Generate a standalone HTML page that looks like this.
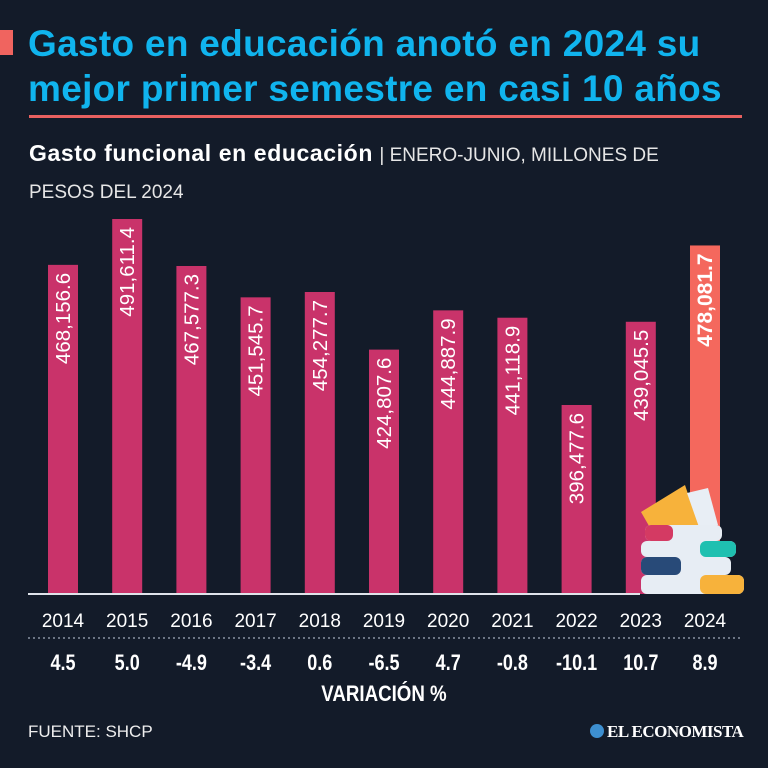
<!DOCTYPE html>
<html><head><meta charset="utf-8"><style>
body{margin:0;background:#131b29;}
#wrap{position:relative;width:768px;height:768px;background:#131b29;overflow:hidden;font-family:"Liberation Sans",sans-serif;color:#fff;}
.t{position:absolute;white-space:nowrap;}
</style></head><body>
<div id="wrap">
<div class="t" style="left:0;top:30px;width:13px;height:25px;background:#f0645f"></div>
<div class="t" style="left:28px;top:21px;font-size:37px;font-weight:bold;color:#10b4ee;line-height:45px;letter-spacing:0.3px">Gasto en educación anotó en 2024 su<br>mejor primer semestre en casi 10 años</div>
<div class="t" style="left:29px;top:115px;width:713px;height:3px;background:#e8605f"></div>
<div class="t" style="left:29px;top:136px;font-size:23px;line-height:34px"><b style="letter-spacing:0.6px">Gasto funcional en educación</b> <span style="font-size:19px;color:#e6e6e6">| ENERO-JUNIO, MILLONES DE<br>PESOS DEL 2024</span></div>
<svg id="chart" width="768" height="768" style="position:absolute;left:0;top:0"></svg>
<div class="t" style="left:0;width:768px;text-align:center;top:681px;font-size:22px;font-weight:bold;transform:scaleX(0.85)">VARIACIÓN %</div>
<div class="t" style="left:28px;top:722px;font-size:17px;color:#eee">FUENTE: SHCP</div>
<div class="t" style="left:590px;top:722px;font-size:17px;font-family:'Liberation Serif',serif;font-weight:bold;letter-spacing:-0.5px"><span style="display:inline-block;width:14px;height:14px;border-radius:50%;background:#3d8fd0;vertical-align:-1px;margin-right:3px"></span>EL ECONOMISTA</div>
</div>
<script>
const years=["2014","2015","2016","2017","2018","2019","2020","2021","2022","2023","2024"];
const values=[468156.6,491611.4,467577.3,451545.7,454277.7,424807.6,444887.9,441118.9,396477.6,439045.5,478081.7];
const labels=["468,156.6","491,611.4","467,577.3","451,545.7","454,277.7","424,807.6","444,887.9","441,118.9","396,477.6","439,045.5","478,081.7"];
const variation=["4.5","5.0","-4.9","-3.4","0.6","-6.5","4.7","-0.8","-10.1","10.7","8.9"];
const NS="http://www.w3.org/2000/svg";
const svg=document.getElementById('chart');
const x=i=>63+i*64.2;
const y=v=>594-(v-299800)*0.001955;
function mk(t,a){const e=document.createElementNS(NS,t);for(const k in a)e.setAttribute(k,a[k]);svg.appendChild(e);return e;}
years.forEach((yr,i)=>{
 const last=i===years.length-1;
 const r=mk('rect',{x:x(i)-15,y:y(values[i]),width:30,height:594-y(values[i]),fill:last?'#f4685d':'#c9336a'});
 
 
 const tx=x(i)+7,ty=y(values[i])+8;
 const t=mk('text',{x:tx,y:ty,transform:`rotate(-90 ${tx} ${ty})`,'text-anchor':'end','font-size':last?21:20.5,'font-weight':last?'bold':'normal',fill:'#fff','font-family':'Liberation Sans, sans-serif'});
 t.textContent=labels[i];
 
 
 const yl=mk('text',{x:x(i),y:627,'text-anchor':'middle','font-size':19,fill:'#fff','font-family':'Liberation Sans, sans-serif'});
 yl.textContent=yr;
 
 
 const vl=mk('text',{x:0,y:0,'text-anchor':'middle','font-size':22,'font-weight':'bold',fill:'#fff','font-family':'Liberation Sans, sans-serif',transform:`translate(${x(i)},670) scale(0.82,1)`});
 vl.textContent=variation[i];
 
 
});
const base=mk('line',{x1:28,x2:640,y1:594,y2:594,stroke:'#dfe3ea','stroke-width':2});


const dot=mk('line',{x1:28,x2:740,y1:638,y2:638,stroke:'#8a93a3','stroke-width':1.5,'stroke-dasharray':'2 3'});


const g=document.createElementNS(NS,'g');svg.appendChild(g);


g.innerHTML=`
<path d="M641,512 L685,485 L700,530 L660,545 Z" fill="#f7b23b"/>
<path d="M687,493 L708,488 L718,525 L700,530 Z" fill="#e8eef5"/>
<rect x="645" y="525" width="77" height="16" rx="6" fill="#e7edf4"/>
<rect x="645" y="525" width="28" height="16" rx="6" fill="#d43a63"/>
<rect x="641" y="541" width="95" height="16" rx="6" fill="#e7edf4"/>
<rect x="700" y="541" width="36" height="16" rx="6" fill="#1fc0b0"/>
<rect x="641" y="557" width="90" height="18" rx="6" fill="#e7edf4"/>
<rect x="641" y="557" width="40" height="18" rx="6" fill="#284a78"/>
<rect x="641" y="575" width="103" height="19" rx="6" fill="#e7edf4"/>
<rect x="700" y="575" width="44" height="19" rx="6" fill="#f7b23b"/>`;
</script>
</body></html>
